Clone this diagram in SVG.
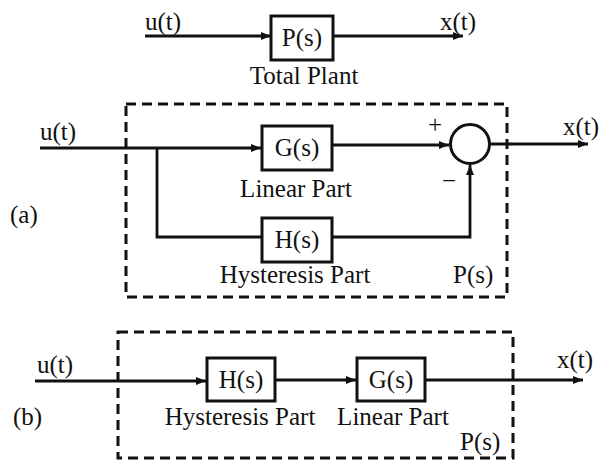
<svg xmlns="http://www.w3.org/2000/svg" width="599" height="461" viewBox="0 0 599 461">
<style>
text{font-family:'Liberation Serif','Times New Roman',Times,serif;font-size:25px;fill:#111}
.ln{stroke:#111;stroke-width:2.8;fill:none}
.bx{stroke:#111;stroke-width:3;fill:#fff}
.dash{stroke:#111;stroke-width:3;fill:none;stroke-dasharray:10 6}
</style>
<defs>
<marker id="ar" viewBox="0 0 10 10" refX="10" refY="5" markerWidth="11" markerHeight="10" markerUnits="userSpaceOnUse" orient="auto">
<path d="M0,1 L10,5 L0,9 z" fill="#111"/>
</marker>
</defs>
<rect width="599" height="461" fill="#fff"/>
<g id="frames">
<rect class="dash" x="126" y="104" width="381" height="193"/>
<rect class="dash" x="118" y="332" width="395" height="126"/>
</g>
<g id="connectors">
<line class="ln" x1="145" y1="36" x2="271" y2="36" marker-end="url(#ar)"/>
<line class="ln" x1="334" y1="36" x2="463" y2="36" marker-end="url(#ar)"/>
<line class="ln" x1="40" y1="148" x2="261" y2="148" marker-end="url(#ar)"/>
<polyline class="ln" points="157,148 157,237 262,237"/>
<line class="ln" x1="333" y1="145" x2="449" y2="145" marker-end="url(#ar)"/>
<polyline class="ln" points="333,237 470,237 470,165" marker-end="url(#ar)"/>
<line class="ln" x1="490" y1="144" x2="588" y2="144" marker-end="url(#ar)"/>
<line class="ln" x1="35" y1="381" x2="206" y2="381" marker-end="url(#ar)"/>
<line class="ln" x1="276" y1="380" x2="356" y2="380" marker-end="url(#ar)"/>
<line class="ln" x1="426" y1="380" x2="583" y2="380" marker-end="url(#ar)"/>
</g>
<g id="plant">
<rect class="bx" x="271" y="16" width="62" height="44"/>
<text x="302" y="46" text-anchor="middle">P(s)</text>
<text x="304" y="84" text-anchor="middle">Total Plant</text>
</g>
<g id="labels-top">
<text x="145" y="30">u(t)</text>
<text x="440" y="30">x(t)</text>
</g>
<g id="a-G">
<rect class="bx" x="262" y="126" width="70" height="44"/>
<text x="297" y="156" text-anchor="middle">G(s)</text>
<text x="296" y="197" text-anchor="middle">Linear Part</text>
</g>
<g id="a-H">
<rect class="bx" x="262" y="218" width="70" height="44"/>
<text x="297" y="248" text-anchor="middle">H(s)</text>
<text x="295" y="283" text-anchor="middle">Hysteresis Part</text>
</g>
<g id="a-sum">
<circle cx="470" cy="144" r="19.5" fill="#fff" stroke="#111" stroke-width="3"/>
<text x="435" y="133" text-anchor="middle" font-size="22">+</text>
<text x="449" y="189" text-anchor="middle" font-size="22">−</text>
</g>
<g id="a-labels">
<text x="40" y="140">u(t)</text>
<text x="563" y="135">x(t)</text>
<text x="10" y="223">(a)</text>
<text x="453" y="283">P(s)</text>
</g>
<g id="b-H">
<rect class="bx" x="207" y="358" width="68" height="43"/>
<text x="241" y="388" text-anchor="middle">H(s)</text>
<text x="240" y="425" text-anchor="middle">Hysteresis Part</text>
</g>
<g id="b-G">
<rect class="bx" x="357" y="358" width="68" height="43"/>
<text x="391" y="388" text-anchor="middle">G(s)</text>
<text x="393" y="425" text-anchor="middle">Linear Part</text>
</g>
<g id="b-labels">
<text x="37" y="373">u(t)</text>
<text x="557" y="368">x(t)</text>
<text x="13" y="425">(b)</text>
<text x="460" y="450">P(s)</text>
</g>
</svg>
